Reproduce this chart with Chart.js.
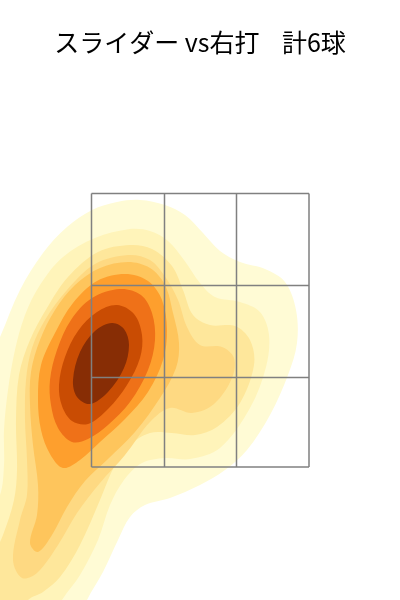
<!DOCTYPE html>
<html>
<head>
<meta charset="utf-8">
<title>スライダー vs右打</title>
<script src="https://cdn.jsdelivr.net/npm/chart.js@4"></script>
<style>
  body { margin: 0; background: #fff; }
  canvas { display: block; }
</style>
</head>
<body>
<canvas id="kdeChart" width="400" height="600"></canvas>
<script>
// Chart title
const chartTitle = "スライダー vs右打    計6球";

// Strike zone grid edges, in picture units
const zoneX = [91.5, 164.5, 236.5, 309];
const zoneY = [193.5, 285.5, 377.5, 467];

// Density contours, lowest level first
const level1 = [[-20,380],[0,337],[20,290],[43,253],[67,227],[92,210],[117,202],[140,200],[165,205],[185,215],[203,233],[220,251],[240,262],[265,269],[285,282],[296,310],[297,343],[288,375],[270,415],[247,450],[225,470],[200,485],[170,498],[145,505],[130,517],[118,540],[103,572],[87,600],[70,640],[-30,640]];
const level2 = [[130,229],[150,231],[168,241],[184,260],[200,283],[215,297],[240,302],[260,312],[269,335],[266,367],[250,408],[220,448],[190,459],[165,458],[142,463],[124,480],[110,505],[98,540],[80,575],[62,600],[40,640],[-20,640],[-15,520],[0,495],[4,465],[4,430],[8,390],[15,350],[25,315],[40,285],[63,257],[95,238]];
const level3 = [[130,245],[152,249],[172,266],[183,290],[193,315],[210,325],[235,326],[250,340],[254,365],[240,403],[217,427],[195,435],[172,433],[150,433],[130,445],[115,465],[100,500],[80,545],[60,577],[43,592],[28,600],[10,625],[-15,620],[-10,565],[3,535],[14,500],[17,470],[16,420],[19,375],[30,340],[47,308],[68,277],[98,252]];
const level4 = [[128,255],[150,260],[166,278],[178,300],[187,327],[200,345],[222,347],[234,358],[232,378],[214,404],[192,413],[170,408],[150,422],[125,455],[100,483],[77,513],[58,545],[37,573],[22,578],[13,560],[20,520],[27,495],[27,460],[25,420],[26,380],[32,348],[45,320],[67,290],[95,264]];
const level5 = [[128,262],[150,268],[165,285],[173,313],[179,343],[176,368],[160,398],[135,432],[108,459],[85,481],[67,507],[52,535],[38,552],[30,543],[37,515],[38,485],[33,445],[30,405],[31,372],[40,340],[55,310],[75,285],[100,268]];
const level6 = [[125,274],[148,281],[162,300],[167,330],[163,360],[148,392],[125,419],[100,442],[80,460],[63,468],[50,454],[41,430],[38,400],[41,365],[55,333],[73,303],[97,281]];
const level7 = [[120,289],[141,295],[152,313],[155,340],[148,370],[130,402],[108,425],[88,439],[72,442],[58,428],[51,405],[50,380],[57,350],[71,320],[92,298]];
const level8 = [[117,305],[134,314],[142,335],[140,358],[127,385],[108,409],[88,424],[72,421],[62,406],[59,385],[65,357],[78,331],[97,312]];
const level9 = [[112,323],[124,329],[129,345],[124,368],[108,392],[90,404],[77,397],[73,380],[80,352],[95,331]];

const levels = [level1, level2, level3, level4, level5, level6, level7, level8, level9];
const levelColors = ["#fffbd5", "#fff4ba", "#fee79b", "#fed982", "#fec55c", "#fe9f2d", "#ef7118", "#c94c03", "#872d05"];

// Turn a contour into a closed, filled dataset. The ends overlap so the curve stays smooth where it closes
function contourDataset(level, index) {
  const wrapped = [level[level.length - 1], ...level, level[0], level[1]];
  return {
    data: wrapped.map(([x, y]) => ({ x: x, y: y })),
    showLine: true,
    fill: "shape",
    backgroundColor: levelColors[index],
    borderWidth: 0,
    pointRadius: 0,
    tension: 0.34,
    order: levels.length - index + 1,
  };
}

// One straight line of the strike zone grid
function gridDataset(x1, y1, x2, y2) {
  return {
    data: [{ x: x1, y: y1 }, { x: x2, y: y2 }],
    showLine: true,
    borderColor: "#808080",
    borderWidth: 1.5,
    pointRadius: 0,
    order: 0,
  };
}

const datasets = levels.map(contourDataset);
zoneX.forEach((x) => datasets.push(gridDataset(x, zoneY[0], x, zoneY[3])));
zoneY.forEach((y) => datasets.push(gridDataset(zoneX[0], y, zoneX[3], y)));

new Chart(document.getElementById("kdeChart").getContext("2d"), {
  type: "scatter",
  data: { datasets: datasets },
  options: {
    responsive: false,
    animation: false,
    layout: { padding: 0 },
    plugins: {
      legend: { display: false },
      tooltip: { enabled: false },
      title: {
        display: true,
        text: chartTitle,
        color: "#000",
        font: { family: "'Noto Sans CJK JP'", size: 25, weight: "normal", lineHeight: 1 },
        padding: { top: 30, bottom: 25 },
      },
    },
    scales: {
      x: { type: "linear", display: false, min: 0, max: 400 },
      y: { type: "linear", display: false, min: 80, max: 600, reverse: true },
    },
  },
});
</script>
</body>
</html>
